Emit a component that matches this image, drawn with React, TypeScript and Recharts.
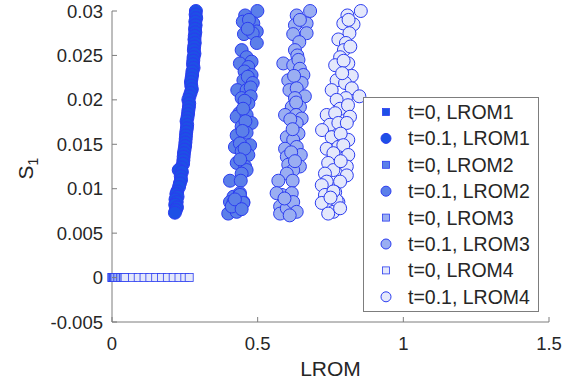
import { ScatterChart, Scatter, XAxis, YAxis } from 'recharts';

// axis ticks
const xTicks = [0, 0.5, 1, 1.5];
const xTickLabels = ['0', '0.5', '1', '1.5'];
const yTicks = [-0.005, 0, 0.005, 0.01, 0.015, 0.02, 0.025, 0.03];
const yTickLabels = ['-0.005', '0', '0.005', '0.01', '0.015', '0.02', '0.025', '0.03'];

const seriesNames = [
  't=0, LROM1', 't=0.1, LROM1',
  't=0, LROM2', 't=0.1, LROM2',
  't=0, LROM3', 't=0.1, LROM3',
  't=0, LROM4', 't=0.1, LROM4',
];

// t=0 : S1 is zero everywhere, only LROM varies
const t0Lrom1X = [0, 0.002, 0.004];
const t0Lrom2X = [0, 0.006, 0.012, 0.018];
const t0Lrom3X = [0.01, 0.02, 0.03, 0.04];
const t0Lrom4X = [0.045, 0.07, 0.09, 0.11, 0.13, 0.15, 0.17, 0.19, 0.21, 0.23, 0.25, 0.265];

// t=0.1 : [LROM, S1]
const t01Lrom1: [number, number][] = [
  [0.288, 0.0300], [0.287, 0.0296], [0.289, 0.0292], [0.286, 0.0288], [0.287, 0.0284], [0.285, 0.0280],
  [0.286, 0.0276], [0.284, 0.0272], [0.283, 0.0268], [0.284, 0.0264], [0.282, 0.0260], [0.281, 0.0256],
  [0.283, 0.0252], [0.280, 0.0248], [0.279, 0.0244], [0.278, 0.0240], [0.280, 0.0236], [0.276, 0.0232],
  [0.275, 0.0228], [0.273, 0.0224], [0.271, 0.0220], [0.272, 0.0216], [0.274, 0.0212], [0.270, 0.0208],
  [0.266, 0.0204], [0.262, 0.0200], [0.265, 0.0196], [0.264, 0.0192], [0.262, 0.0188], [0.261, 0.0184],
  [0.259, 0.0180], [0.256, 0.0176], [0.258, 0.0172], [0.257, 0.0168], [0.255, 0.0164], [0.254, 0.0160],
  [0.253, 0.0156], [0.252, 0.0152], [0.251, 0.0148], [0.249, 0.0144], [0.247, 0.0140], [0.246, 0.0136],
  [0.245, 0.0132], [0.244, 0.0128], [0.238, 0.0124], [0.229, 0.0121], [0.240, 0.0119], [0.236, 0.0114],
  [0.237, 0.0110], [0.233, 0.0106], [0.230, 0.0102], [0.224, 0.0097], [0.221, 0.0094], [0.225, 0.0091],
  [0.218, 0.0088], [0.222, 0.0085], [0.217, 0.0082], [0.223, 0.0079], [0.219, 0.0076], [0.216, 0.0073],
];

const t01Lrom2: [number, number][] = [
  [0.499, 0.0300], [0.457, 0.0295], [0.449, 0.0288], [0.485, 0.0286], [0.470, 0.0290], [0.497, 0.0277],
  [0.453, 0.0274], [0.483, 0.0275], [0.466, 0.0280], [0.497, 0.0264], [0.445, 0.0256], [0.462, 0.0248],
  [0.439, 0.0241], [0.479, 0.0243], [0.468, 0.0237], [0.455, 0.0232], [0.451, 0.0222], [0.479, 0.0228],
  [0.466, 0.0226], [0.483, 0.0219], [0.430, 0.0211], [0.462, 0.0211], [0.476, 0.0214], [0.445, 0.0202],
  [0.476, 0.0204], [0.468, 0.0196], [0.455, 0.0199], [0.437, 0.0185], [0.428, 0.0181], [0.462, 0.0183],
  [0.450, 0.0190], [0.445, 0.0170], [0.479, 0.0174], [0.458, 0.0176], [0.428, 0.0160], [0.462, 0.0163],
  [0.448, 0.0165], [0.474, 0.0149], [0.422, 0.0147], [0.439, 0.0151], [0.445, 0.0142], [0.468, 0.0138],
  [0.455, 0.0145], [0.428, 0.0129], [0.457, 0.0125], [0.462, 0.0121], [0.445, 0.0117], [0.440, 0.0133],
  [0.405, 0.0109], [0.442, 0.0109], [0.417, 0.0091], [0.439, 0.0095], [0.405, 0.0085], [0.451, 0.0085],
  [0.428, 0.0080], [0.399, 0.0072], [0.417, 0.0085], [0.439, 0.0093], [0.451, 0.0084], [0.428, 0.0074],
  [0.411, 0.0080], [0.422, 0.0088], [0.445, 0.0077],
];

const t01Lrom3: [number, number][] = [
  [0.680, 0.0300], [0.634, 0.0295], [0.668, 0.0286], [0.628, 0.0284], [0.645, 0.0290], [0.668, 0.0275],
  [0.622, 0.0274], [0.643, 0.0265], [0.628, 0.0256], [0.636, 0.0250], [0.588, 0.0241], [0.622, 0.0239],
  [0.640, 0.0245], [0.645, 0.0235], [0.657, 0.0228], [0.605, 0.0222], [0.651, 0.0219], [0.625, 0.0227],
  [0.609, 0.0211], [0.634, 0.0213], [0.662, 0.0204], [0.628, 0.0202], [0.617, 0.0192], [0.645, 0.0192],
  [0.632, 0.0197], [0.594, 0.0183], [0.632, 0.0183], [0.651, 0.0179], [0.634, 0.0174], [0.612, 0.0178],
  [0.600, 0.0158], [0.640, 0.0162], [0.622, 0.0155], [0.620, 0.0167], [0.594, 0.0145], [0.634, 0.0147],
  [0.648, 0.0138], [0.600, 0.0136], [0.615, 0.0141], [0.605, 0.0127], [0.645, 0.0125], [0.622, 0.0121],
  [0.600, 0.0117], [0.628, 0.0131], [0.571, 0.0109], [0.620, 0.0109], [0.583, 0.0093], [0.617, 0.0095],
  [0.605, 0.0085], [0.622, 0.0076], [0.577, 0.0080], [0.577, 0.0072], [0.600, 0.0078], [0.622, 0.0085],
  [0.565, 0.0095], [0.634, 0.0074], [0.592, 0.0089], [0.610, 0.0070],
];

const t01Lrom4: [number, number][] = [
  [0.854, 0.0300], [0.808, 0.0295], [0.794, 0.0286], [0.829, 0.0285], [0.812, 0.0290], [0.815, 0.0275],
  [0.777, 0.0268], [0.803, 0.0264], [0.796, 0.0256], [0.818, 0.0260], [0.783, 0.0248], [0.811, 0.0241],
  [0.766, 0.0239], [0.795, 0.0244], [0.823, 0.0227], [0.771, 0.0222], [0.800, 0.0219], [0.790, 0.0230],
  [0.754, 0.0211], [0.823, 0.0213], [0.849, 0.0204], [0.803, 0.0202], [0.771, 0.0200], [0.783, 0.0190],
  [0.810, 0.0194], [0.737, 0.0183], [0.766, 0.0185], [0.817, 0.0181], [0.748, 0.0172], [0.777, 0.0174],
  [0.806, 0.0174], [0.721, 0.0166], [0.754, 0.0158], [0.811, 0.0155], [0.785, 0.0162], [0.737, 0.0145],
  [0.777, 0.0147], [0.794, 0.0149], [0.811, 0.0138], [0.760, 0.0140], [0.742, 0.0129], [0.760, 0.0121],
  [0.806, 0.0125], [0.785, 0.0131], [0.731, 0.0117], [0.806, 0.0115], [0.737, 0.0108], [0.783, 0.0108],
  [0.720, 0.0104], [0.731, 0.0093], [0.766, 0.0096], [0.777, 0.0085], [0.742, 0.0082], [0.760, 0.0074],
  [0.720, 0.0084], [0.742, 0.0072], [0.771, 0.0087], [0.760, 0.0097], [0.783, 0.0078], [0.750, 0.0090],
];

const FILLS = ['#1d50e6', '#5b7fe9', '#9aaef2', '#e4e8fb'];
const EDGE = '#2b3cf0';
const AXIS = '#7d7d7d';
const TEXT = '#262626';
const FONT = '"Liberation Sans", Arial, sans-serif';

const toZero = (xs: number[]) => xs.map((x) => ({ x, y: 0 }));
const toPts = (pts: [number, number][]) => pts.map(([x, y]) => ({ x, y }));

const squareShape = (fill: string) => (p: any) => (
  <rect x={p.cx - 4} y={p.cy - 4} width={8} height={8} fill={fill} stroke={EDGE} strokeWidth={0.8} />
);
const circleShape = (fill: string) => (p: any) => (
  <circle cx={p.cx} cy={p.cy} r={6.5} fill={fill} stroke={EDGE} strokeWidth={1} />
);

// inward ticks, MATLAB style
const BottomTick = (p: any) => (
  <g>
    <line x1={p.x} y1={p.y} x2={p.x} y2={p.y - 5} stroke={AXIS} />
    <text x={p.x} y={p.y + 28} textAnchor="middle" fontSize={18.5} fill={TEXT} fontFamily={FONT}>
      {xTickLabels[p.index]}
    </text>
  </g>
);
const LeftTick = (p: any) => (
  <g>
    <line x1={p.x} y1={p.y} x2={p.x + 5} y2={p.y} stroke={AXIS} />
    <text x={p.x - 9} y={p.y + 6.5} textAnchor="end" fontSize={18.5} fill={TEXT} fontFamily={FONT}>
      {yTickLabels[p.index]}
    </text>
  </g>
);
const TopTick = (p: any) => <line x1={p.x} y1={p.y} x2={p.x} y2={p.y + 5} stroke={AXIS} />;
const RightTick = (p: any) => <line x1={p.x} y1={p.y} x2={p.x - 5} y2={p.y} stroke={AXIS} />;

const YLabel = ({ viewBox }: any) => {
  const cx = viewBox.x + 33;
  const cy = viewBox.y + viewBox.height / 2 + 2;
  return (
    <text x={cx} y={cy} transform={`rotate(-90 ${cx} ${cy})`} textAnchor="middle" fontSize={21} fill={TEXT} fontFamily={FONT}>
      S<tspan dy={5} fontSize={14}>1</tspan>
    </text>
  );
};

const LegendBox = () => (
  <svg width={177} height={216} style={{ position: 'absolute', left: 363, top: 97 }}>
    <rect x={0.5} y={0.5} width={175} height={214} fill="#fff" stroke={AXIS} />
    {seriesNames.map((name, i) => {
      const cy = 15 + i * 26.4;
      const fill = FILLS[Math.floor(i / 2)];
      return (
        <g key={name}>
          {i % 2 === 0 ? (
            <rect x={19.5} y={cy - 3.5} width={7} height={7} fill={fill} stroke={EDGE} strokeWidth={0.8} />
          ) : (
            <circle cx={23} cy={cy} r={5} fill={fill} stroke={EDGE} strokeWidth={1} />
          )}
          <text x={45} y={cy + 7} fontSize={19.5} fill={TEXT} fontFamily={FONT}>{name}</text>
        </g>
      );
    })}
  </svg>
);

export default function App() {
  const series = [
    { data: toZero(t0Lrom1X), shape: squareShape(FILLS[0]) },
    { data: toPts(t01Lrom1), shape: circleShape(FILLS[0]) },
    { data: toZero(t0Lrom2X), shape: squareShape(FILLS[1]) },
    { data: toPts(t01Lrom2), shape: circleShape(FILLS[1]) },
    { data: toZero(t0Lrom3X), shape: squareShape(FILLS[2]) },
    { data: toPts(t01Lrom3), shape: circleShape(FILLS[2]) },
    { data: toZero(t0Lrom4X), shape: squareShape(FILLS[3]) },
    { data: toPts(t01Lrom4), shape: circleShape(FILLS[3]) },
  ];

  return (
    <div style={{ position: 'absolute', left: 0, top: 0, width: 580, height: 386, background: '#fff' }}>
      <ScatterChart width={580} height={386} margin={{ top: 11, right: 31, bottom: 0, left: 0 }}>
        <XAxis
          type="number" dataKey="x" domain={[0, 1.5]} ticks={xTicks} height={64}
          axisLine={{ stroke: AXIS }} tickLine={false} tickSize={0} tickMargin={0} tick={<BottomTick />}
          label={{ value: 'LROM', position: 'insideBottom', offset: 10, fontSize: 21, fill: TEXT, fontFamily: FONT }}
        />
        <XAxis
          xAxisId="top" orientation="top" type="number" dataKey="x" domain={[0, 1.5]} ticks={xTicks} height={0}
          axisLine={{ stroke: AXIS }} tickLine={false} tickSize={0} tickMargin={0} tick={<TopTick />}
        />
        <YAxis
          type="number" dataKey="y" domain={[-0.005, 0.03]} ticks={yTicks} width={112}
          axisLine={{ stroke: AXIS }} tickLine={false} tickSize={0} tickMargin={0} tick={<LeftTick />}
          label={{ content: <YLabel /> }}
        />
        <YAxis
          yAxisId="right" orientation="right" type="number" dataKey="y" domain={[-0.005, 0.03]} ticks={yTicks} width={0}
          axisLine={{ stroke: AXIS }} tickLine={false} tickSize={0} tickMargin={0} tick={<RightTick />}
        />
        {series.map((s, i) => (
          <Scatter key={i} name={seriesNames[i]} data={s.data} shape={s.shape} isAnimationActive={false} />
        ))}
      </ScatterChart>
      <LegendBox />
    </div>
  );
}
